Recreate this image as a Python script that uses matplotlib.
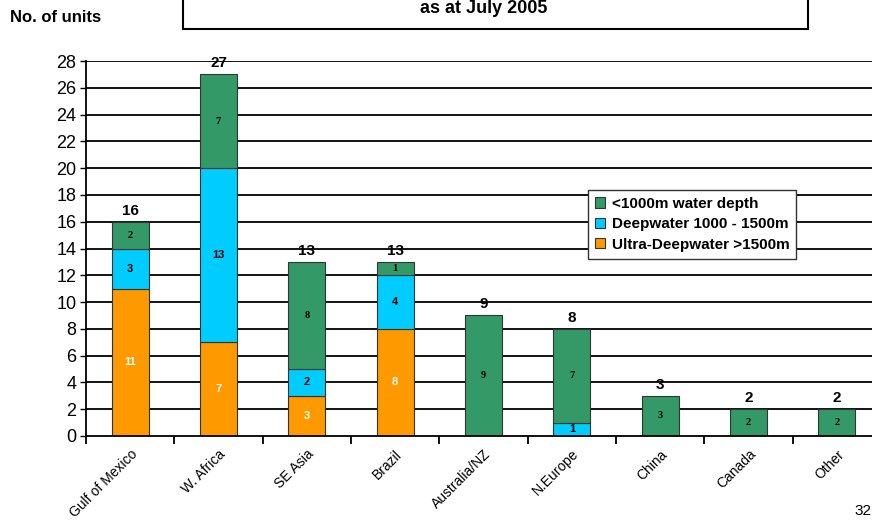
import matplotlib
matplotlib.use("Agg")
import matplotlib.pyplot as plt
from matplotlib.patches import Rectangle
import numpy as np

categories = ["Gulf of Mexico", "W. Africa", "SE Asia", "Brazil", "Australia/NZ",
              "N.Europe", "China", "Canada", "Other"]
ultra = [11, 7, 3, 8, 0, 0, 0, 0, 0]
deep = [3, 13, 2, 4, 0, 1, 0, 0, 0]
shallow = [2, 7, 8, 1, 9, 7, 3, 2, 2]
series_names = ["<1000m water depth", "Deepwater 1000 - 1500m", "Ultra-Deepwater >1500m"]
yticks = list(range(0, 29, 2))

c_green = "#339966"
c_blue = "#00CCFF"
c_orange = "#FF9900"

plt.rcParams['font.family'] = ['Liberation Sans', 'DejaVu Sans']

fig = plt.figure(figsize=(8.72, 5.25), dpi=100)
W, H = 872, 525
ax_left, ax_right = 86, 881
ax_bottom, ax_top = 436, 61
ax = fig.add_axes([ax_left / W, 1 - ax_bottom / H, (ax_right - ax_left) / W, (ax_bottom - ax_top) / H])

x = np.arange(len(categories))
bw = 0.42
u = np.array(ultra); d = np.array(deep); s = np.array(shallow)
ax.set_axisbelow(True)
for yv in yticks[1:]:
    ax.axhline(yv, color="black", lw=1.3, zorder=0)
ax.bar(x, u, bw, color=c_orange, edgecolor="#333333", lw=0.8, zorder=2)
ax.bar(x, d, bw, bottom=u, color=c_blue, edgecolor="#333333", lw=0.8, zorder=2)
ax.bar(x, s, bw, bottom=u + d, color=c_green, edgecolor="#333333", lw=0.8, zorder=2)

for i in range(len(categories)):
    if u[i]:
        ax.text(x[i], u[i] / 2, str(u[i]), ha="center", va="center", color="white",
                fontsize=8, fontweight="bold", zorder=3)
    if d[i]:
        ax.text(x[i], u[i] + d[i] / 2, str(d[i]), ha="center", va="center", color="black",
                fontsize=8, fontweight="bold", zorder=3)
    if s[i]:
        ax.text(x[i], u[i] + d[i] + s[i] / 2, str(s[i]), ha="center", va="center", color="black",
                fontsize=7.5, fontweight="bold", family=["Liberation Serif", "DejaVu Serif"], zorder=3)
    tot = u[i] + d[i] + s[i]
    ax.text(x[i], tot + 0.3, str(tot), ha="center", va="bottom", fontsize=11, fontweight="bold")

ax.set_xlim(-0.5, len(categories) - 0.5)
ax.set_ylim(0, 28)
ax.set_yticks(yticks)
ax.set_yticklabels([str(v) for v in yticks], fontsize=13)
ax.tick_params(axis="y", length=4, width=1, pad=3)
ax.set_xticks(x - 0.5, minor=False)
ax.set_xticklabels([])
ax.set_xticks(x, minor=True)
ax.set_xticklabels(categories, minor=True, rotation=45, ha="right", rotation_mode="anchor", fontsize=10)
ax.tick_params(axis="x", which="major", length=6, width=1.3, direction="out")
ax.tick_params(axis="x", which="minor", length=0, pad=8)
for sp in ["top", "right"]:
    ax.spines[sp].set_visible(False)
ax.spines["left"].set_linewidth(1.3)
ax.spines["bottom"].set_linewidth(1.3)

handles = [Rectangle((0, 0), 1, 1, facecolor=c, edgecolor="#333333", lw=0.8)
           for c in (c_green, c_blue, c_orange)]
leg = ax.legend(handles, series_names, loc="upper left",
                bbox_to_anchor=((588 - ax_left) / (ax_right - ax_left), 1 - (190 - ax_top) / (ax_bottom - ax_top)),
                prop={"weight": "bold", "size": 11}, frameon=True, fancybox=False,
                handlelength=0.65, handleheight=0.65, handletextpad=0.45, borderpad=0.45,
                labelspacing=0.42, borderaxespad=0)
leg.get_frame().set_edgecolor("#333333")
leg.get_frame().set_linewidth(1.0)
leg.get_frame().set_alpha(1)

# title box (partially cut off at top)
box = Rectangle((183 / W, 1 - 29 / H), (808 - 183) / W, 40 / H, transform=fig.transFigure,
                facecolor="white", edgecolor="black", lw=1.5)
fig.patches.append(box)
fig.text(484 / W, 1 - 13 / H, "as at July 2005", ha="center", va="baseline",
         fontsize=13, fontweight="bold")
fig.text(10 / W, 1 - 18 / H, "No. of units", ha="left", va="center", fontsize=12, fontweight="bold")
fig.text(871 / W, 1 - 511 / H, "32", ha="right", va="center", fontsize=11)

fig.savefig("out.png", dpi=100)
